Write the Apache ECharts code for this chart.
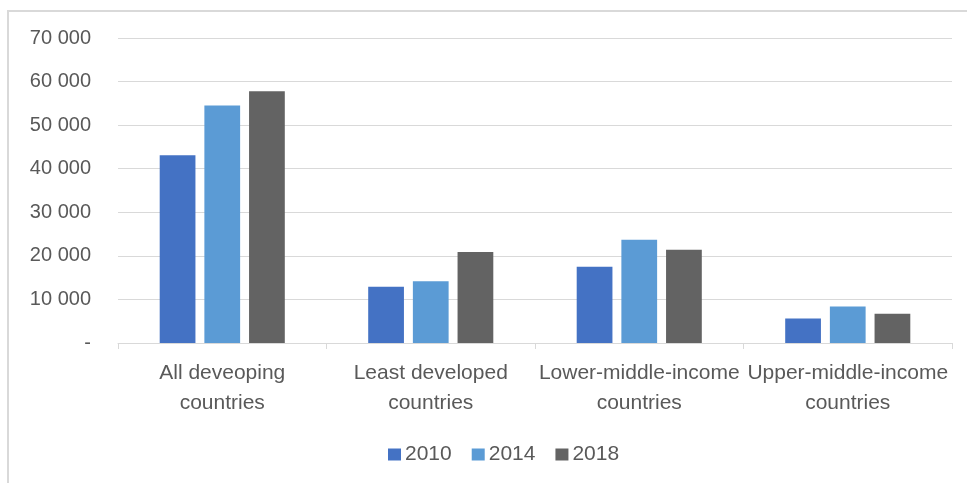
<!DOCTYPE html>
<html>
<head>
<meta charset="utf-8">
<script src="https://cdn.jsdelivr.net/npm/echarts@6/dist/echarts.min.js"></script>
<style>
  html, body { margin: 0; padding: 0; background: #fff; }
  #chart { width: 967px; height: 483px; }
</style>
</head>
<body>
<div id="chart"></div>
<script>
// Categories and yearly values
const categories = [
  'All deveoping\ncountries',
  'Least developed\ncountries',
  'Lower-middle-income\ncountries',
  'Upper-middle-income\ncountries'
];
const years = ['2010', '2014', '2018'];
const values2010 = [43100, 12900, 17500, 5600];
const values2014 = [54500, 14200, 23700, 8400];
const values2018 = [57800, 20900, 21400, 6700];
const colors = ['#4472C4', '#5B9BD5', '#636363'];

const FONT = '"Liberation Sans", Arial, sans-serif';
const TEXT = '#595959';

function fmt(v) {
  if (v === 0) return '-';
  return String(v).replace(/\B(?=(\d{3})+(?!\d))/g, ' ');
}

const seriesData = [values2010, values2014, values2018];

const chart = echarts.init(document.getElementById('chart'), null, { renderer: 'canvas' });
chart.setOption({
  backgroundColor: '#ffffff',
  animation: false,
  graphic: [
    {
      type: 'polyline',
      shape: { points: [[8, 483], [8, 11], [967, 11]] },
      style: { fill: 'none', stroke: '#d9d9d9', lineWidth: 2 },
      silent: true
    }
  ],
  grid: { left: 118, right: 15, top: 38, bottom: 140, containLabel: false },
  legend: {
    top: 439,
    left: 383,
    itemWidth: 13,
    itemHeight: 12,
    itemGap: 20,
    icon: 'rect',
    textStyle: { color: TEXT, fontSize: 21, fontFamily: FONT, padding: [0, 0, 0, -1] },
    data: years
  },
  xAxis: {
    type: 'category',
    data: categories,
    axisLine: { lineStyle: { color: '#d9d9d9', width: 1 } },
    axisTick: { show: true, length: 6, lineStyle: { color: '#d9d9d9' } },
    axisLabel: {
      color: TEXT, fontSize: 21, fontFamily: FONT, lineHeight: 30, margin: 15,
      interval: 0
    }
  },
  yAxis: {
    type: 'value',
    min: 0,
    max: 70000,
    interval: 10000,
    axisLine: { show: false },
    axisTick: { show: false },
    splitLine: { lineStyle: { color: '#d9d9d9', width: 1 } },
    axisLabel: {
      color: TEXT, fontSize: 20, fontFamily: FONT, margin: 27,
      formatter: fmt
    }
  },
  series: years.map((y, i) => ({
    name: y,
    type: 'bar',
    data: seriesData[i],
    barGap: '25%',
    barCategoryGap: '40%',
    itemStyle: { color: colors[i] }
  }))
});
</script>
</body>
</html>
